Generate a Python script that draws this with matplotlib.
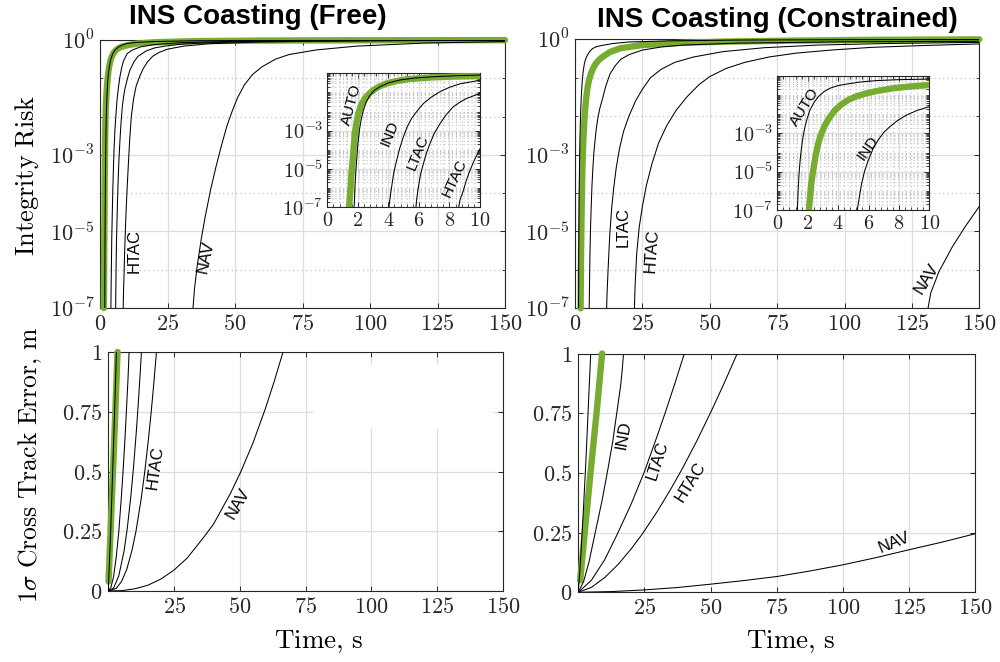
import numpy as np
import matplotlib
matplotlib.use("Agg")
import matplotlib.pyplot as plt
from matplotlib.ticker import FixedLocator, FixedFormatter, LogLocator, MultipleLocator, NullFormatter
from matplotlib.patches import Rectangle

# %% data
# ---- INS coasting (free): integrity risk, log10 values ----
free_green_t = [1.42, 1.50, 1.58, 1.66, 1.74, 1.82, 1.92, 2.03, 2.20, 2.47, 2.75, 3.01, 3.40, 3.89, 4.50, 5.20,
                6.00, 6.94, 8.30, 10.0, 14.0, 20.0, 35.0, 60.0, 100.0, 150.0]
free_green_logir = [-7.0, -6.2, -5.3, -4.55, -3.75, -3.06, -2.55, -2.10, -1.68, -1.31, -1.06, -0.88, -0.69, -0.53,
                    -0.41, -0.32, -0.26, -0.21, -0.17, -0.14, -0.09, -0.06, -0.03, -0.015, -0.007, -0.004]
free_auto_t = [1.74, 1.80, 1.86, 1.92, 2.00, 2.10, 2.22, 2.36, 2.55, 2.80, 3.10, 3.45, 4.00, 4.76, 5.70, 6.94,
               8.30, 10.0, 14.0, 20.0, 35.0, 60.0, 100.0, 150.0]
free_auto_logir = [-7.4, -6.1, -5.25, -4.55, -3.7, -2.98, -2.4, -1.93, -1.5, -1.14, -0.88, -0.70, -0.50, -0.35,
                   -0.25, -0.18, -0.13, -0.09, -0.06, -0.04, -0.02, -0.01, -0.005, -0.003]
free_ind_t = [3.98, 4.05, 4.12, 4.21, 4.35, 4.54, 4.75, 4.98, 5.22, 5.52, 5.90, 6.29, 6.80, 7.38, 8.00, 8.69,
              10.0, 12.0, 15.0, 20.0, 30.0, 50.0, 80.0, 150.0]
free_ind_logir = [-7.4, -6.9, -6.45, -5.95, -5.2, -4.55, -3.9, -3.33, -2.82, -2.36, -1.95, -1.58, -1.25, -0.96,
                  -0.73, -0.55, -0.36, -0.26, -0.18, -0.12, -0.07, -0.035, -0.02, -0.008]
free_ltac_t = [5.76, 5.85, 5.96, 6.10, 6.29, 6.50, 6.72, 7.00, 7.38, 7.80, 8.25, 8.70, 9.13, 10.0, 11.0, 12.5,
               14.0, 17.0, 20.0, 24.0, 30.0, 40.0, 60.0, 100.0, 150.0]
free_ltac_logir = [-7.4, -6.6, -5.95, -5.3, -4.73, -4.15, -3.68, -3.15, -2.63, -2.15, -1.75, -1.5, -1.31, -1.05,
                   -0.8, -0.58, -0.43, -0.29, -0.21, -0.16, -0.11, -0.07, -0.035, -0.015, -0.008]
free_htac_t = [8.50, 8.70, 8.91, 9.10, 9.34, 9.65, 10.0, 10.5, 11.0, 11.6, 12.4, 13.4, 14.7, 16.0, 17.6, 19.6,
               22.0, 25.0, 31.0, 40.0, 55.0, 80.0, 110.0, 150.0]
free_htac_logir = [-7.4, -6.6, -6.13, -5.6, -5.08, -4.5, -3.94, -3.25, -2.6, -2.0, -1.55, -1.2, -0.95, -0.75,
                   -0.57, -0.42, -0.32, -0.24, -0.16, -0.1, -0.06, -0.03, -0.015, -0.01]
free_nav_t = [34.0, 35.0, 36.0, 37.5, 39.0, 41.0, 43.0, 45.0, 47.0, 49.0, 51.0, 53.5, 56.5, 60.0, 65.0, 70.0,
              80.0, 95.0, 120.0, 150.0]
free_nav_logir = [-7.4, -6.5, -5.9, -5.2, -4.6, -3.9, -3.3, -2.75, -2.25, -1.85, -1.5, -1.17, -0.9, -0.7,
                  -0.5, -0.38, -0.26, -0.16, -0.08, -0.04]

# ---- INS coasting (constrained): integrity risk, log10 values ----
con_green_t = [2.08, 2.12, 2.22, 2.37, 2.52, 2.70, 2.90, 3.14, 3.45, 3.80, 4.20, 4.67, 5.20, 5.88, 6.70, 7.63,
               8.70, 10.0, 13.0, 17.0, 25.0, 40.0, 56.0, 80.0, 110.0, 150.0]
con_green_logir = [-7.0, -6.6, -5.7, -4.9, -4.15, -3.5, -3.0, -2.56, -2.15, -1.78, -1.5, -1.25, -1.06, -0.9,
                   -0.76, -0.64, -0.55, -0.47, -0.33, -0.23, -0.15, -0.09, -0.06, -0.035, -0.015, -0.002]
con_auto_t = [1.28, 1.32, 1.38, 1.45, 1.52, 1.60, 1.70, 1.82, 1.97, 2.15, 2.40, 2.70, 3.05, 3.46, 4.00, 4.56,
              5.40, 6.54, 8.00, 10.0, 14.0, 20.0, 35.0, 60.0, 100.0, 150.0]
con_auto_logir = [-7.6, -7.0, -5.8, -4.9, -4.25, -3.7, -3.15, -2.65, -2.2, -1.78, -1.4, -1.08, -0.83, -0.64,
                  -0.5, -0.42, -0.32, -0.24, -0.19, -0.16, -0.11, -0.07, -0.04, -0.02, -0.01, -0.005]
con_ind_t = [5.18, 5.30, 5.55, 5.75, 5.99, 6.30, 6.64, 7.00, 7.41, 7.90, 8.50, 9.20, 10.0, 11.5, 13.0, 15.0,
             17.0, 20.0, 25.0, 32.0, 40.0, 60.0, 100.0, 150.0]
con_ind_logir = [-7.6, -6.8, -5.6, -4.95, -4.39, -3.8, -3.34, -2.95, -2.65, -2.33, -2.04, -1.8, -1.6, -1.2,
                 -0.9, -0.68, -0.52, -0.4, -0.28, -0.2, -0.15, -0.1, -0.065, -0.05]
con_ltac_t = [11.5, 11.9, 12.4, 12.9, 13.6, 14.4, 15.3, 16.5, 18.0, 20.0, 22.5, 25.0, 28.0, 32.0, 37.0, 44.0,
              55.0, 70.0, 90.0, 115.0, 150.0]
con_ltac_logir = [-7.6, -6.6, -5.8, -5.08, -4.4, -3.85, -3.34, -2.85, -2.4, -2.0, -1.6, -1.3, -1.0, -0.78,
                  -0.6, -0.46, -0.32, -0.22, -0.15, -0.11, -0.08]
con_htac_t = [21.8, 22.3, 22.9, 23.8, 25.0, 26.5, 28.5, 31.0, 34.0, 37.5, 41.5, 46.0, 50.0, 56.0, 63.0, 72.0,
              82.0, 95.0, 110.0, 130.0, 150.0]
con_htac_logir = [-7.6, -6.4, -5.57, -4.9, -4.35, -3.8, -3.25, -2.7, -2.25, -1.85, -1.5, -1.18, -0.97, -0.76,
                  -0.6, -0.46, -0.36, -0.28, -0.21, -0.16, -0.12]
con_nav_t = [130.2, 132.0, 135.0, 140.0, 145.0, 150.0]
con_nav_logir = [-7.3, -6.6, -6.05, -5.4, -4.85, -4.35]

# ---- 1 sigma cross track error, m (free) ----
free_green_sig_t = [0.1, 1.0, 1.9, 2.7, 3.5]
free_green_sig = [0.04, 0.29, 0.53, 0.76, 1.0]
free_auto_sig_t = [0.0, 0.8, 1.6, 2.4, 3.1]
free_auto_sig = [0.0, 0.22, 0.48, 0.75, 1.0]
free_ind_sig_t = [0.0, 1.0, 2.0, 3.0, 4.0, 5.0, 5.6, 6.3, 7.0, 7.5, 7.9]
free_ind_sig = [0.0, 0.015, 0.06, 0.14, 0.25, 0.4, 0.5, 0.63, 0.78, 0.89, 1.0]
free_ltac_sig_t = [0.0, 2.0, 4.0, 6.0, 7.2, 8.6, 9.6, 10.6, 11.3, 12.0, 12.6]
free_ltac_sig = [0.0, 0.012, 0.064, 0.168, 0.261, 0.4, 0.52, 0.66, 0.77, 0.89, 1.0]
free_htac_sig_t = [0.0, 3.0, 5.0, 7.0, 9.0, 10.5, 12.5, 13.9, 15.3, 16.3, 17.3, 18.3]
free_htac_sig = [0.0, 0.011, 0.039, 0.09, 0.17, 0.249, 0.386, 0.503, 0.64, 0.749, 0.869, 1.0]
free_nav_sig_t = [0.0, 5.0, 10.0, 15.0, 20.0, 25.0, 30.0, 36.5, 40.0, 43.0, 46.5, 50.4, 55.0, 59.6, 63.0, 66.4]
free_nav_sig = [0.0, 0.0015, 0.009, 0.024, 0.05, 0.088, 0.138, 0.228, 0.28, 0.34, 0.41, 0.5, 0.62, 0.76, 0.875, 1.0]

# ---- 1 sigma cross track error, m (constrained) ----
con_green_sig_t = [0.7, 2.6, 4.7, 6.9, 9.0]
con_green_sig = [0.05, 0.27, 0.51, 0.75, 1.0]
con_auto_sig_t = [0.0, 1.0, 2.0, 3.0, 4.0, 4.7]
con_auto_sig = [0.0, 0.16, 0.36, 0.58, 0.83, 1.0]
con_ind_sig_t = [0.0, 2.0, 4.0, 6.3, 9.0, 11.1, 13.0, 14.6, 16.0, 16.6, 17.1]
con_ind_sig = [0.0, 0.045, 0.125, 0.245, 0.385, 0.51, 0.63, 0.755, 0.865, 0.93, 1.0]
con_ltac_sig_t = [0.0, 5.0, 10.0, 14.6, 20.0, 25.1, 30.0, 32.9, 36.5, 40.1]
con_ltac_sig = [0.0, 0.051, 0.137, 0.24, 0.37, 0.508, 0.66, 0.753, 0.874, 1.0]
con_htac_sig_t = [0.0, 5.0, 10.0, 15.0, 20.0, 24.0, 30.0, 35.0, 39.2, 45.0, 50.6, 55.0, 60.1]
con_htac_sig = [0.0, 0.021, 0.062, 0.116, 0.182, 0.241, 0.341, 0.433, 0.515, 0.638, 0.766, 0.872, 1.0]
con_nav_sig_t = [0.0, 12.5, 25.0, 37.5, 50.0, 62.5, 75.0, 87.5, 100.0, 112.5, 125.0, 137.5, 150.0]
con_nav_sig = [0.0, 0.003, 0.01, 0.02, 0.034, 0.049, 0.066, 0.089, 0.115, 0.145, 0.178, 0.21, 0.245]

# %% plot
config = {
    "mathtext.fontset": "cm",
    "font.family": ["Liberation Sans", "DejaVu Sans"],
    "axes.linewidth": 0.8,
    "axes.edgecolor": "#262626",
}
plt.rcParams.update(config)

GREEN = "#77AC30"
W, H = 1000, 662
fig = plt.figure(figsize=(10, 6.62), dpi=100)


def px_axes(x0, y0, x1, y1):
    # axes from pixel box (y measured from the top)
    return fig.add_axes([x0 / W, 1 - y1 / H, (x1 - x0) / W, (y1 - y0) / H])


def style(ax, size):
    ax.set_axisbelow(True)
    ax.tick_params(which="both", direction="in", top=True, right=True, colors="#262626",
                   labelsize=size, pad=4)
    ax.tick_params(which="major", length=3.5, width=0.7)
    ax.tick_params(which="minor", length=2.0, width=0.6)
    ax.grid(which="major", color="#dedede", lw=0.9, ls="-")


def log_labels(vals):
    return ["$10^{%d}$" % v for v in vals]


def draw_ir(ax, curves, green, clip_green):
    ax.plot(green[0], 10.0 ** np.array(green[1]), color=GREEN, lw=4.6, solid_capstyle="round",
            clip_on=clip_green, zorder=3)
    for t, lg in curves:
        ax.plot(t, 10.0 ** np.array(lg), color="black", lw=0.75, zorder=4)


def main_log_axes(ax):
    ax.set_yscale("log")
    ax.set_xlim(0, 150)
    ax.set_ylim(1e-7, 1)
    style(ax, 16)
    ax.xaxis.set_major_locator(FixedLocator([0, 25, 50, 75, 100, 125, 150]))
    ax.xaxis.set_major_formatter(FixedFormatter(["$%d$" % v for v in [0, 25, 50, 75, 100, 125, 150]]))
    ax.yaxis.set_major_locator(FixedLocator([1e-7, 1e-5, 1e-3, 1e0]))
    ax.yaxis.set_major_formatter(FixedFormatter(log_labels([-7, -5, -3, 0])))
    ax.yaxis.set_minor_locator(FixedLocator([1e-6, 1e-4, 1e-2, 1e-1]))
    ax.yaxis.set_minor_formatter(NullFormatter())
    ax.xaxis.set_minor_locator(FixedLocator([]))
    ax.grid(which="minor", axis="y", color="#c4c4c4", lw=0.9, ls=(0, (1, 2.5)))


def inset_axes(ax):
    ax.set_yscale("log")
    ax.set_xlim(0, 10)
    ax.set_ylim(1e-7, 1)
    style(ax, 14.5)
    ax.xaxis.set_major_locator(FixedLocator([0, 2, 4, 6, 8, 10]))
    ax.xaxis.set_major_formatter(FixedFormatter(["$%d$" % v for v in [0, 2, 4, 6, 8, 10]]))
    ax.xaxis.set_minor_locator(MultipleLocator(0.4))
    ax.yaxis.set_major_locator(FixedLocator([1e-7, 1e-5, 1e-3]))
    ax.yaxis.set_major_formatter(FixedFormatter(log_labels([-7, -5, -3])))
    ax.yaxis.set_minor_locator(LogLocator(base=10, subs=np.arange(1, 10), numticks=100))
    ax.yaxis.set_minor_formatter(NullFormatter())
    ax.grid(which="minor", color="#c4c4c4", lw=0.8, ls=(0, (1, 2.5)))
    ax.tick_params(pad=3)


def sigma_axes(ax):
    ax.set_xlim(0, 150)
    ax.set_ylim(0, 1)
    style(ax, 16)
    ax.xaxis.set_major_locator(FixedLocator([25, 50, 75, 100, 125, 150]))
    ax.xaxis.set_major_formatter(FixedFormatter(["$%d$" % v for v in [25, 50, 75, 100, 125, 150]]))
    ax.yaxis.set_major_locator(FixedLocator([0, 0.25, 0.5, 0.75, 1]))
    ax.yaxis.set_major_formatter(FixedFormatter(["$0$", "$0.25$", "$0.5$", "$0.75$", "$1$"]))


def label(ax, x, y, s, rot, size=12):
    ax.text(x, y, s, rotation=rot, ha="center", va="center", fontsize=size, rotation_mode="anchor",
            family=["Liberation Sans", "DejaVu Sans"], zorder=6)


free_curves = [(free_auto_t, free_auto_logir), (free_ind_t, free_ind_logir), (free_ltac_t, free_ltac_logir),
               (free_htac_t, free_htac_logir), (free_nav_t, free_nav_logir)]
con_curves = [(con_auto_t, con_auto_logir), (con_ind_t, con_ind_logir), (con_ltac_t, con_ltac_logir),
              (con_htac_t, con_htac_logir), (con_nav_t, con_nav_logir)]

# ---- top left ----
ax_tl = px_axes(100, 40, 505, 308)
main_log_axes(ax_tl)
draw_ir(ax_tl, free_curves, (free_green_t, free_green_logir), False)
label(ax_tl, 12.6, 10 ** -5.5, "HTAC", 90)
label(ax_tl, 39.3, 10 ** -5.67, "NAV", 78)

ins_tl = px_axes(327.3, 73.3, 480, 207.3)
inset_axes(ins_tl)
draw_ir(ins_tl, free_curves, (free_green_t, free_green_logir), True)
label(ins_tl, 1.6, 10 ** -1.66, "AUTO", 75, 11)
label(ins_tl, 4.1, 10 ** -3.12, "IND", 68, 11)
label(ins_tl, 5.94, 10 ** -4.11, "LTAC", 68, 11)
label(ins_tl, 8.36, 10 ** -5.47, "HTAC", 65, 11)

# ---- top right ----
ax_tr = px_axes(575, 39.3, 979.3, 308.3)
main_log_axes(ax_tr)
draw_ir(ax_tr, con_curves, (con_green_t, con_green_logir), False)
label(ax_tr, 17.8, 10 ** -4.89, "LTAC", 90)
label(ax_tr, 28.3, 10 ** -5.5, "HTAC", 86)
label(ax_tr, 130.5, 10 ** -6.22, "NAV", 58)

ins_tr = px_axes(777.3, 76, 929.3, 210)
inset_axes(ins_tr)
draw_ir(ins_tr, con_curves, (con_green_t, con_green_logir), True)
label(ins_tr, 1.82, 10 ** -1.6, "AUTO", 58, 11)
label(ins_tr, 5.99, 10 ** -3.78, "IND", 55, 11)

# ---- bottom left ----
ax_bl = px_axes(108.3, 352, 503, 591)
sigma_axes(ax_bl)
ax_bl.add_patch(Rectangle((0.518, 0.677), 0.457, 0.269, transform=ax_bl.transAxes,
                          facecolor="white", edgecolor="none", zorder=1))
ax_bl.plot(free_green_sig_t, free_green_sig, color=GREEN, lw=4.6, solid_capstyle="round", clip_on=False, zorder=3)
for t, s in [(free_auto_sig_t, free_auto_sig), (free_ind_sig_t, free_ind_sig), (free_ltac_sig_t, free_ltac_sig),
             (free_htac_sig_t, free_htac_sig), (free_nav_sig_t, free_nav_sig)]:
    ax_bl.plot(t, s, color="black", lw=0.75, zorder=4)
label(ax_bl, 17.7, 0.515, "HTAC", 82)
label(ax_bl, 49.4, 0.367, "NAV", 60)

# ---- bottom right ----
ax_br = px_axes(578.3, 353.5, 975, 592.3)
sigma_axes(ax_br)
ax_br.plot(con_green_sig_t, con_green_sig, color=GREEN, lw=4.6, solid_capstyle="round", clip_on=False, zorder=3)
for t, s in [(con_auto_sig_t, con_auto_sig), (con_ind_sig_t, con_ind_sig), (con_ltac_sig_t, con_ltac_sig),
             (con_htac_sig_t, con_htac_sig), (con_nav_sig_t, con_nav_sig)]:
    ax_br.plot(t, s, color="black", lw=0.75, zorder=4)
label(ax_br, 17.0, 0.66, "IND", 80)
label(ax_br, 29.8, 0.55, "LTAC", 72)
label(ax_br, 42.6, 0.46, "HTAC", 58)
label(ax_br, 119.6, 0.207, "NAV", 22)

# ---- titles and axis labels ----
fig.text(258 / W, 1 - 17 / H, "INS Coasting (Free)", ha="center", va="center", fontsize=20, fontweight="bold")
fig.text(777 / W, 1 - 20 / H, "INS Coasting (Constrained)", ha="center", va="center", fontsize=20,
         fontweight="bold")
fig.text(27 / W, 1 - 175 / H, r"$\mathrm{Integrity\ Risk}$", rotation=90, ha="center", va="center", fontsize=19)
fig.text(30 / W, 1 - 465 / H, r"$1\sigma\ \mathrm{Cross\ Track\ Error{,}\ m}$", rotation=90, ha="center",
         va="center", fontsize=18.5)
fig.text(318 / W, 1 - 642 / H, r"$\mathrm{Time{,}\ s}$", ha="center", va="center", fontsize=19.5)
fig.text(790 / W, 1 - 642 / H, r"$\mathrm{Time{,}\ s}$", ha="center", va="center", fontsize=19.5)

plt.savefig("out.png", dpi=100)
plt.close()
